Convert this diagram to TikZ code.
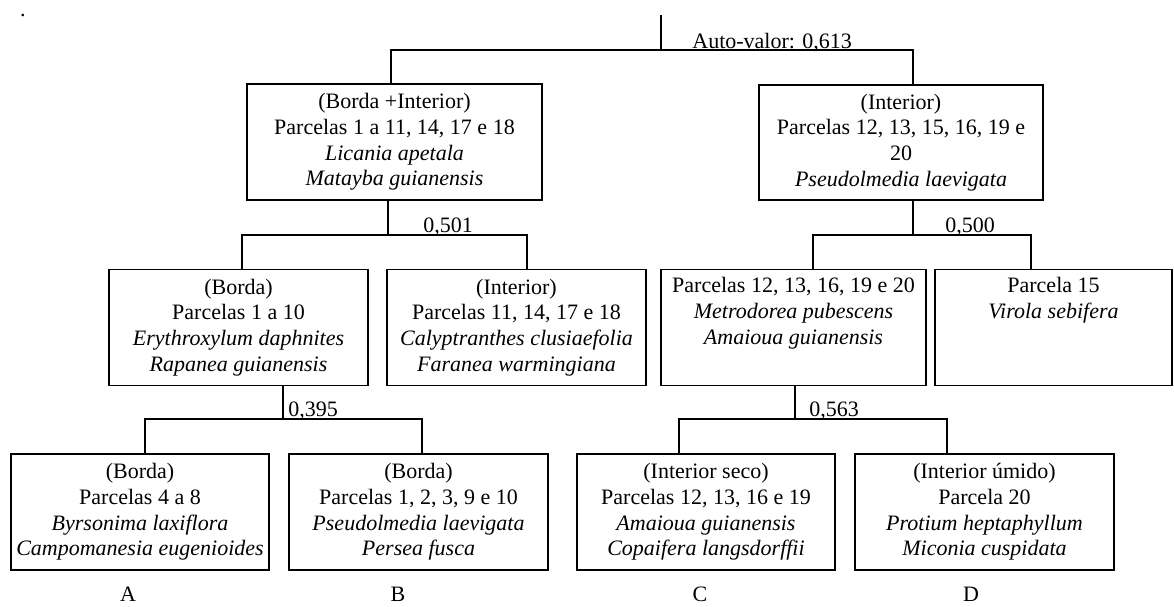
\documentclass[tikz,border=0pt]{standalone}
\usepackage{fontspec}
\setmainfont{Liberation Serif}
\begin{document}
\begin{tikzpicture}[x=0.5pt,y=-0.5pt,
  txt/.style={font=\fontsize{11}{12.8}\selectfont},
  box/.style={txt,draw,line width=0.9pt,inner sep=0pt,align=center,minimum height=58pt},
  lbl/.style={txt,inner sep=0pt},
  conn/.style={line width=0.9pt}]
\useasboundingbox (0,0) rectangle (1174,606);

\node[lbl,anchor=base] (dot) at (23,16) {.};

% level 1
\node[box,minimum width=147.5pt] (b1) at (394.5,142)
  {(Borda +Interior)\\Parcelas 1 a 11, 14, 17 e 18\\\textit{Licania apetala}\\\textit{Matayba guianensis}};
\node[box,minimum width=142pt,minimum height=57.5pt] (b2) at (901,142.5)
  {(Interior)\\Parcelas 12, 13, 15, 16, 19 e\\20\\\textit{Pseudolmedia laevigata}};

% level 2
\node[box,minimum width=129.5pt] (bBorda) at (238.5,327.5)
  {(Borda)\\Parcelas 1 a 10\\\textit{Erythroxylum daphnites}\\\textit{Rapanea guianensis}};
\node[box,minimum width=129.5pt] (bInt) at (516.5,327.5)
  {(Interior)\\Parcelas 11, 14, 17 e 18\\\textit{Calyptranthes clusiaefolia}\\\textit{Faranea warmingiana}};
\node[box,minimum width=132.5pt] (bP12) at (793.5,327.5)
  {Parcelas 12, 13, 16, 19 e 20\\\textit{Metrodorea pubescens}\\\textit{Amaioua guianensis}\\\strut};
\node[box,minimum width=118.5pt] (bP15) at (1053.5,327.5)
  {Parcela 15\\\textit{Virola sebifera}\\\strut\\\strut};

% level 3
\node[box,minimum width=129pt] (bA) at (140,512)
  {(Borda)\\Parcelas 4 a 8\\\textit{Byrsonima laxiflora}\\\textit{Campomanesia eugenioides}};
\node[box,minimum width=129.5pt] (bB) at (418.5,512)
  {(Borda)\\Parcelas 1, 2, 3, 9 e 10\\\textit{Pseudolmedia laevigata}\\\textit{Persea fusca}};
\node[box,minimum width=129pt] (bC) at (706,512)
  {(Interior seco)\\Parcelas 12, 13, 16 e 19\\\textit{Amaioua guianensis}\\\textit{Copaifera langsdorffii}};
\node[box,minimum width=129.5pt] (bD) at (984.5,512)
  {(Interior úmido)\\Parcela 20\\\textit{Protium heptaphyllum}\\\textit{Miconia cuspidata}};

% group letters
\node[lbl,anchor=base] (lA) at (128,601) {A};
\node[lbl,anchor=base] (lB) at (398,601) {B};
\node[lbl,anchor=base] (lC) at (700,601) {C};
\node[lbl,anchor=base] (lD) at (971,601) {D};

% eigenvalue labels
\node[lbl,anchor=base west] (ev0) at (692,48) {Auto-valor: 0,613};
\node[lbl,anchor=base west] (ev1) at (423,232) {0,501};
\node[lbl,anchor=base west] (ev2) at (945,232) {0,500};
\node[lbl,anchor=base west] (ev3) at (288,416) {0,395};
\node[lbl,anchor=base west] (ev4) at (809,416) {0,563};

% connectors
\coordinate (root) at (661,15);
\coordinate (j0) at (661,50);
\draw[conn] (root) -- (j0);
\draw[conn] (j0) -| (b1.north -| 391,0);
\draw[conn] (j0) -| (b2.north -| 913,0);

\coordinate (j1) at (388,235);
\draw[conn] (b1.south -| j1) -- (j1);
\draw[conn] (j1) -| (bBorda.north -| 242,0);
\draw[conn] (j1) -| (bInt.north -| 527,0);

\coordinate (j2) at (913,235);
\draw[conn] (b2.south -| j2) -- (j2);
\draw[conn] (j2) -| (bP12.north -| 813,0);
\draw[conn] (j2) -| (bP15.north -| 1031,0);

\coordinate (j3) at (283,419);
\draw[conn] (bBorda.south -| j3) -- (j3);
\draw[conn] (j3) -| (bA.north -| 145,0);
\draw[conn] (j3) -| (bB.north -| 422,0);

\coordinate (j4) at (795,419);
\draw[conn] (bP12.south -| j4) -- (j4);
\draw[conn] (j4) -| (bC.north -| 679,0);
\draw[conn] (j4) -| (bD.north -| 947,0);
\end{tikzpicture}
\end{document}
